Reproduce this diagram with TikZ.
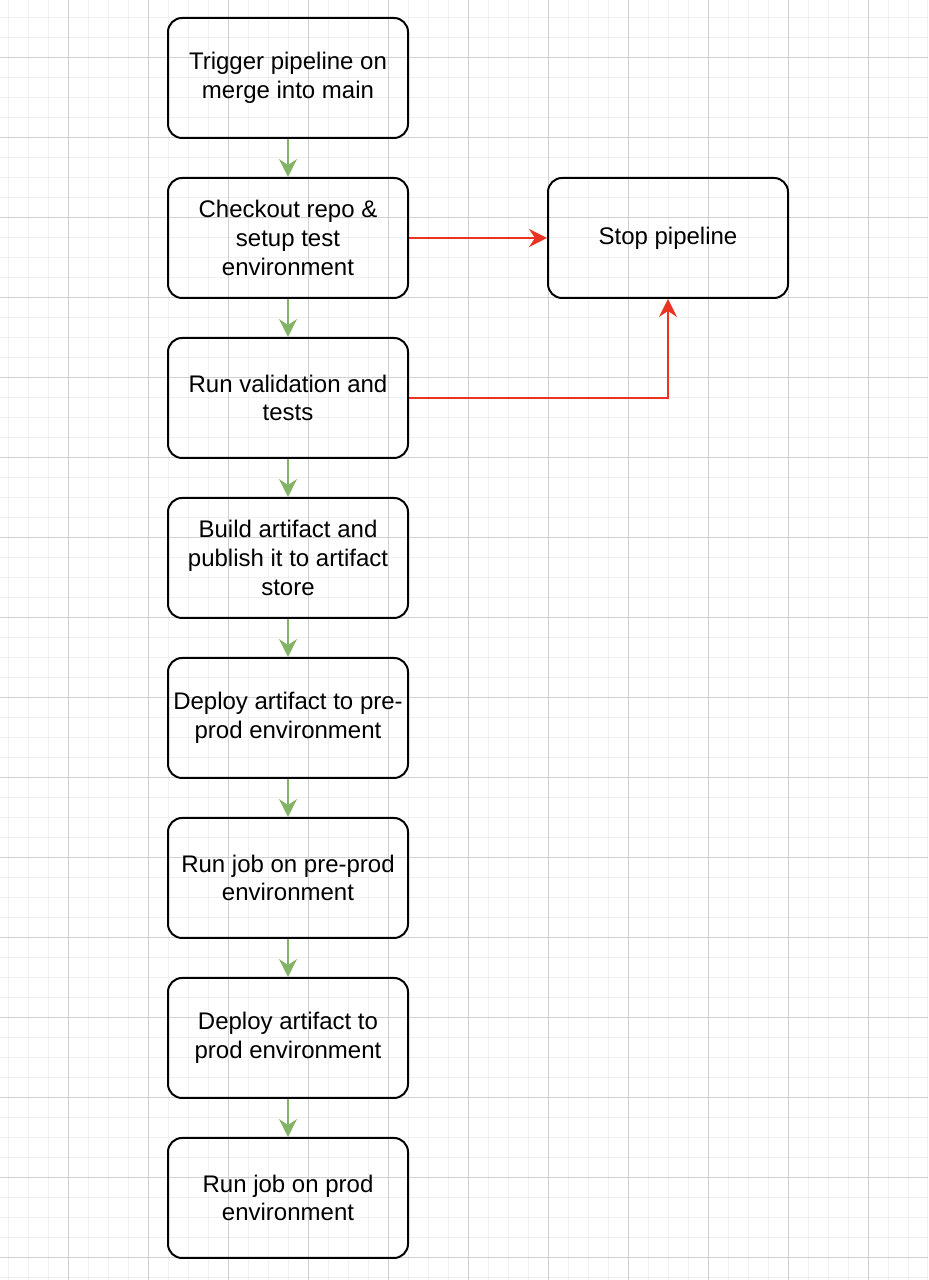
\documentclass[tikz,border=0pt]{standalone}
\usepackage{fontspec}
\setmainfont{Liberation Sans}
\usetikzlibrary{arrows.meta}
\definecolor{gridminor}{HTML}{F0F0F0}
\definecolor{gridmajor}{HTML}{D0D0D0}
\definecolor{okgreen}{HTML}{82B366}
\definecolor{failred}{HTML}{EA3323}
\begin{document}
\begin{tikzpicture}[x=1pt,y=1pt,
  stepbox/.style={draw,line width=1pt,rounded corners=7pt,minimum width=120pt,
    minimum height=60pt,inner sep=0pt,align=center,font=\fontsize{12}{14.4}\selectfont},
  okarrow/.style={draw=okgreen,line width=1pt,-{Stealth[length=9pt,width=9pt,inset=3pt]}},
  failarrow/.style={draw=failred,line width=1pt,-{Stealth[length=9pt,width=9pt,inset=3pt]}}]
\useasboundingbox (0,0) rectangle (464,640);
\fill[white] (0,0) rectangle (464,640);
% background grid
\draw[gridminor,line width=0.5pt,step=10,shift={(4,1)}] (-4,-1) grid (460,639);
\draw[gridmajor,line width=0.5pt,step=40,shift={(34,11)}] (-34,-11) grid (430,629);
% pipeline steps
\node[stepbox] (trigger) at (144,601) {Trigger pipeline on\\merge into main};
\node[stepbox] (checkout) at (144,521) {Checkout repo \&\\setup test\\environment};
\node[stepbox] (tests) at (144,441) {Run validation and\\tests};
\node[stepbox] (build) at (144,361) {Build artifact and\\publish it to artifact\\store};
\node[stepbox] (deploypre) at (144,281) {Deploy artifact to pre-\\prod environment};
\node[stepbox] (runpre) at (144,201) {Run job on pre-prod\\environment};
\node[stepbox] (deployprod) at (144,121) {Deploy artifact to\\prod environment};
\node[stepbox] (runprod) at (144,41) {Run job on prod\\environment};
\node[stepbox] (stop) at (334,521) {Stop pipeline};
% success path
\draw[okarrow] (trigger) -- (checkout);
\draw[okarrow] (checkout) -- (tests);
\draw[okarrow] (tests) -- (build);
\draw[okarrow] (build) -- (deploypre);
\draw[okarrow] (deploypre) -- (runpre);
\draw[okarrow] (runpre) -- (deployprod);
\draw[okarrow] (deployprod) -- (runprod);
% failure path
\draw[failarrow] (checkout) -- (stop);
\draw[failarrow] (tests.east) -| (stop.south);
\end{tikzpicture}
\end{document}
